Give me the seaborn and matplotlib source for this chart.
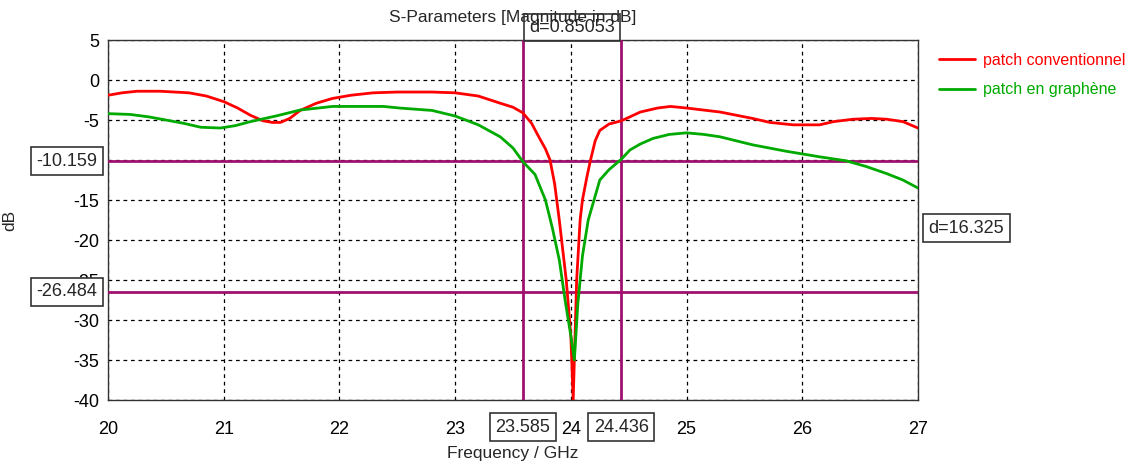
import numpy as np
import pandas as pd
import matplotlib
matplotlib.use("Agg")
import matplotlib.pyplot as plt
import matplotlib.transforms as mtransforms
import seaborn as sns

# frequencies (GHz) and S11 magnitude (dB)
freq_conv = [20.0, 20.12, 20.25, 20.45, 20.7, 20.85, 21.0, 21.12, 21.23, 21.34, 21.42, 21.49,
             21.57, 21.66, 21.8, 21.94, 22.1, 22.29, 22.5, 22.8, 23.0, 23.2, 23.39, 23.5,
             23.585, 23.66, 23.73, 23.78, 23.82, 23.86, 23.9, 23.96, 24.0, 24.02, 24.05,
             24.08, 24.1, 24.14, 24.17, 24.21, 24.25, 24.33, 24.436, 24.6, 24.75, 24.86,
             25.0, 25.29, 25.57, 25.72, 25.92, 26.15, 26.27, 26.44, 26.6, 26.73, 26.87, 27.0]
s11_conv = [-1.9, -1.6, -1.4, -1.4, -1.6, -2.0, -2.7, -3.5, -4.4, -5.1, -5.3, -5.3,
            -4.8, -3.8, -2.9, -2.3, -1.9, -1.6, -1.5, -1.5, -1.6, -2.0, -2.9, -3.4,
            -4.1, -5.4, -7.3, -8.6, -10.0, -13.0, -17.5, -25.0, -32.0, -40.0, -25.0,
            -17.5, -15.0, -12.0, -10.0, -7.6, -6.3, -5.5, -5.1, -4.0, -3.5, -3.3,
            -3.5, -4.0, -4.8, -5.3, -5.6, -5.6, -5.2, -4.9, -4.8, -4.9, -5.2, -6.0]

freq_gra = [20.0, 20.19, 20.35, 20.5, 20.65, 20.8, 20.97, 21.1, 21.23, 21.45, 21.66, 21.94,
            22.15, 22.38, 22.52, 22.8, 23.0, 23.2, 23.39, 23.5, 23.585, 23.69, 23.78,
            23.84, 23.9, 23.95, 24.0, 24.03, 24.06, 24.1, 24.15, 24.25, 24.33, 24.436,
            24.51, 24.6, 24.71, 24.85, 25.0, 25.15, 25.29, 25.57, 25.86, 26.15, 26.38,
            26.55, 26.73, 26.87, 27.0]
s11_gra = [-4.2, -4.3, -4.6, -5.0, -5.4, -5.9, -6.0, -5.7, -5.2, -4.5, -3.75, -3.3,
           -3.3, -3.3, -3.5, -3.8, -4.5, -5.6, -7.1, -8.5, -10.2, -11.8, -15.0,
           -18.5, -22.5, -27.5, -32.0, -35.0, -28.0, -22.0, -17.5, -12.5, -11.2, -9.9,
           -8.75, -8.0, -7.3, -6.8, -6.6, -6.8, -7.1, -8.1, -8.9, -9.6, -10.1,
           -10.8, -11.7, -12.5, -13.5]

series_names = ["patch conventionnel", "patch en graphène"]
series_colors = ["#ff0000", "#00aa00"]

marker_x = [23.585, 24.436]
marker_y = [-10.159, -26.484]
marker_dx = "d=0.85053"
marker_dy = "d=16.325"

x_ticks = [20, 21, 22, 23, 24, 25, 26, 27]
y_ticks = [5, 0, -5, -10, -15, -20, -25, -30, -35, -40]

df = pd.concat([
    pd.DataFrame({"freq": freq_conv, "dB": s11_conv, "curve": series_names[0]}),
    pd.DataFrame({"freq": freq_gra, "dB": s11_gra, "curve": series_names[1]}),
])

sns.set_style("white")
plt.rcParams["font.family"] = ["Liberation Sans", "DejaVu Sans"]
plt.rcParams["axes.unicode_minus"] = False

fig = plt.figure(figsize=(11.35, 4.71), dpi=100)
ax = fig.add_axes([0.0952, 0.1507, 0.7136, 0.7643])

mark_col = "#a0106f"
for xv in marker_x:
    ax.axvline(xv, color=mark_col, lw=2, zorder=3)
for yv in marker_y:
    ax.axhline(yv, color=mark_col, lw=2, zorder=3)

sns.lineplot(data=df, x="freq", y="dB", hue="curve", palette=series_colors,
             hue_order=series_names, sort=False, lw=2, ax=ax, zorder=4, legend=False)

ax.set_xlim(20, 27)
ax.set_ylim(-40, 5)
ax.set_xticks(x_ticks)
ax.set_yticks(y_ticks)
ax.grid(True, color="black", ls=(0, (3, 3)), lw=0.9)
for s in ax.spines.values():
    s.set_color("#333333")
    s.set_linewidth(1)
ax.tick_params(direction="inout", length=6, width=1, colors="#333333",
               labelcolor="black", labelsize=13)
ax.tick_params(axis="x", pad=12)
ax.set_xlabel("Frequency / GHz", fontsize=12.5, labelpad=6)
ax.set_ylabel("dB", fontsize=12.5, labelpad=40)
ax.set_title("S-Parameters [Magnitude in dB]", fontsize=12.5, pad=13)

box = dict(boxstyle="square,pad=0.3", fc="white", ec="#333333", lw=1.2)
ty = mtransforms.blended_transform_factory(ax.transAxes, ax.transData)
tx = mtransforms.blended_transform_factory(ax.transData, ax.transAxes)
for yv in marker_y:
    ax.text(-0.013, yv, f"{yv:.3f}", transform=ty, ha="right", va="center",
            fontsize=13, bbox=box, clip_on=False, zorder=6)
for xv in marker_x:
    ax.text(xv, -0.075, f"{xv:.3f}", transform=tx, ha="center", va="center",
            fontsize=13, bbox=box, clip_on=False, zorder=6)
ax.text(np.mean(marker_x), 1.035, marker_dx, transform=tx, ha="center", va="center",
        fontsize=13, bbox=dict(boxstyle="square,pad=0.3", fc="none", ec="#333333", lw=1.2),
        clip_on=False, zorder=6)
ax.text(1.013, -18.5, marker_dy, transform=ty, ha="left", va="center",
        fontsize=13, bbox=box, clip_on=False, zorder=6)

handles = [plt.Line2D([], [], color=c, lw=2) for c in series_colors]
leg = fig.legend(handles, series_names, loc="upper left", bbox_to_anchor=(0.815, 0.918),
                 frameon=False, fontsize=11.5, handlelength=2.2, handletextpad=0.5,
                 labelspacing=0.9)
for t, c in zip(leg.get_texts(), series_colors):
    t.set_color(c)

fig.savefig("out.png", dpi=100)
